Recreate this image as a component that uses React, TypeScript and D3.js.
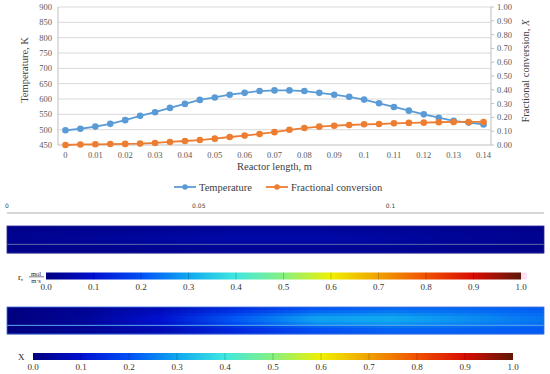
import { useEffect, useRef } from "react";
import * as d3 from "d3";

// reactor length stations (m)
const lengths = [
  0, 0.005, 0.01, 0.015, 0.02, 0.025, 0.03, 0.035, 0.04, 0.045, 0.05, 0.055,
  0.06, 0.065, 0.07, 0.075, 0.08, 0.085, 0.09, 0.095, 0.1, 0.105, 0.11, 0.115,
  0.12, 0.125, 0.13, 0.135, 0.14,
];
const temperature = [
  498, 503, 510, 519, 531, 545, 557, 571, 584, 597, 605, 614, 620, 626, 628,
  628, 626, 620, 614, 607, 598, 586, 574, 562, 550, 539, 529, 523, 517,
];
const conversion = [
  0.0, 0.004, 0.005, 0.007, 0.008, 0.01, 0.015, 0.022, 0.029, 0.036, 0.046,
  0.058, 0.068, 0.08, 0.093, 0.11, 0.123, 0.133, 0.14, 0.145, 0.15, 0.152,
  0.157, 0.16, 0.162, 0.165, 0.167, 0.167, 0.167,
];
const xTickLabels = [
  "0", "0.01", "0.02", "0.03", "0.04", "0.05", "0.06", "0.07", "0.08", "0.09",
  "0.1", "0.11", "0.12", "0.13", "0.14",
];
const tempTicks = [450, 500, 550, 600, 650, 700, 750, 800, 850, 900];
const convTicks = [0, 0.1, 0.2, 0.3, 0.4, 0.5, 0.6, 0.7, 0.8, 0.9, 1.0];

// 2D tube profiles (surface plots)
const tubeStations = [0, 0.02, 0.04, 0.06, 0.08, 0.1, 0.12, 0.14];
const rateWall = [0.01, 0.01, 0.015, 0.02, 0.02, 0.02, 0.015, 0.01];
const rateCentre = [0.02, 0.03, 0.04, 0.05, 0.05, 0.04, 0.03, 0.02];
const xWall = [0.0, 0.02, 0.05, 0.11, 0.16, 0.19, 0.2, 0.2];
const xCentre = [0.0, 0.03, 0.1, 0.21, 0.29, 0.3, 0.27, 0.24];
const radialMix = [0.35, 0.5, 0.75, 1, 1, 0.85, 0.45, 0.3, 0.25];
const rulerTicks = [0, 0.05, 0.1];

// colour map
const cmapStops = [0, 0.1, 0.2, 0.3, 0.4, 0.5, 0.6, 0.7, 0.8, 0.9, 1.0];
const cmapColors = [
  "#00007f", "#0010d0", "#0050f5", "#10a8f0", "#40e8e0", "#88f080",
  "#f0f000", "#f0a000", "#f05000", "#d80c00", "#5e1808",
];
const cbTicks = [0, 0.1, 0.2, 0.3, 0.4, 0.5, 0.6, 0.7, 0.8, 0.9, 1.0];

const SERIF = "Liberation Serif, Times New Roman, serif";
const BLUE = "#5b9bd5";
const ORANGE = "#ed7d31";

export default function App() {
  const ref = useRef<SVGSVGElement>(null);

  useEffect(() => {
    if (!ref.current) return;
    const svg = d3.select(ref.current);
    svg.selectAll("*").remove();
    const defs = svg.append("defs");

    const cmap = d3
      .scaleLinear<string>()
      .domain(cmapStops)
      .range(cmapColors)
      .interpolate(d3.interpolateRgb)
      .clamp(true);

    // ---------- top line chart ----------
    const left = 58, right = 491, top = 7, bottom = 145;
    const x = d3
      .scalePoint<number>()
      .domain(lengths)
      .range([left, right])
      .padding(0.5);
    const yT = d3.scaleLinear().domain([450, 900]).range([bottom, top]);
    const yX = d3.scaleLinear().domain([0, 1]).range([bottom, top]);

    const g = svg.append("g").attr("font-family", SERIF);
    g.selectAll("line.grid")
      .data(tempTicks.slice(1))
      .enter()
      .append("line")
      .attr("x1", left)
      .attr("x2", right)
      .attr("y1", (d) => yT(d))
      .attr("y2", (d) => yT(d))
      .attr("stroke", "#d9d9d9")
      .attr("stroke-width", 1);

    // axes lines
    g.append("line").attr("x1", left).attr("x2", left).attr("y1", top).attr("y2", bottom)
      .attr("stroke", "#bfbfbf");
    g.append("line").attr("x1", right).attr("x2", right).attr("y1", top).attr("y2", bottom)
      .attr("stroke", "#bfbfbf");
    g.append("line").attr("x1", left).attr("x2", right).attr("y1", bottom).attr("y2", bottom)
      .attr("stroke", "#bfbfbf");
    g.selectAll("line.rt")
      .data(convTicks)
      .enter()
      .append("line")
      .attr("x1", right)
      .attr("x2", right + 3)
      .attr("y1", (d) => yX(d))
      .attr("y2", (d) => yX(d))
      .attr("stroke", "#bfbfbf");

    // tick labels
    g.selectAll("text.yl")
      .data(tempTicks)
      .enter()
      .append("text")
      .attr("x", left - 6)
      .attr("y", (d) => yT(d) + 3)
      .attr("text-anchor", "end")
      .attr("font-size", 8.5)
      .attr("fill", "#595959")
      .text((d) => d);
    g.selectAll("text.yr")
      .data(convTicks)
      .enter()
      .append("text")
      .attr("x", right + 6)
      .attr("y", (d) => yX(d) + 3)
      .attr("text-anchor", "start")
      .attr("font-size", 8.5)
      .attr("fill", "#595959")
      .text((d) => d.toFixed(2));
    g.selectAll("text.xl")
      .data(xTickLabels)
      .enter()
      .append("text")
      .attr("x", (d) => x(+d) as number)
      .attr("y", bottom + 13)
      .attr("text-anchor", "middle")
      .attr("font-size", 8.5)
      .attr("fill", "#595959")
      .text((d) => d);

    // axis titles
    g.append("text")
      .attr("transform", `translate(28,70) rotate(-90)`)
      .attr("text-anchor", "middle")
      .attr("font-size", 10.5)
      .attr("fill", "#404040")
      .text("Temperature, K");
    const rt = g.append("text")
      .attr("transform", `translate(529,71) rotate(-90)`)
      .attr("text-anchor", "middle")
      .attr("font-size", 10.5)
      .attr("fill", "#404040");
    rt.append("tspan").text("Fractional conversion, ");
    rt.append("tspan").attr("font-style", "italic").text("X");
    g.append("text")
      .attr("x", (left + right) / 2)
      .attr("y", 170)
      .attr("text-anchor", "middle")
      .attr("font-size", 10.5)
      .attr("fill", "#404040")
      .text("Reactor length, m");

    // series
    const series = [
      { name: "Temperature", values: temperature, y: yT, color: BLUE },
      { name: "Fractional conversion", values: conversion, y: yX, color: ORANGE },
    ];
    series.forEach((s) => {
      const line = d3
        .line<number>()
        .x((_d, i) => x(lengths[i]) as number)
        .y((d) => s.y(d));
      g.append("path")
        .attr("d", line(s.values))
        .attr("fill", "none")
        .attr("stroke", s.color)
        .attr("stroke-width", 1.8);
      g.selectAll(null)
        .data(s.values)
        .enter()
        .append("circle")
        .attr("cx", (_d, i) => x(lengths[i]) as number)
        .attr("cy", (d) => s.y(d))
        .attr("r", 3.3)
        .attr("fill", s.color);
    });

    // legend
    const legendX = [174, 266];
    series.forEach((s, i) => {
      const lg = g.append("g").attr("transform", `translate(${legendX[i]},187)`);
      lg.append("line").attr("x1", 0).attr("x2", 22).attr("stroke", s.color).attr("stroke-width", 1.8);
      lg.append("circle").attr("cx", 11).attr("r", 2.8).attr("fill", s.color);
      lg.append("text")
        .attr("x", 25)
        .attr("y", 3.5)
        .attr("font-size", 10.5)
        .attr("fill", "#404040")
        .text(s.name);
    });

    // ---------- surface plots ----------
    const xt = d3.scaleLinear().domain([0, 0.14]).range([7, 544]);

    svg.selectAll("text.ruler")
      .data(rulerTicks)
      .enter()
      .append("text")
      .attr("x", (d) => xt(d))
      .attr("y", 208)
      .attr("text-anchor", "middle")
      .attr("font-family", "DejaVu Sans, sans-serif")
      .attr("font-size", 6)
      .attr("fill", "#444")
      .text((d) => String(d));
    svg.append("line")
      .attr("x1", xt(0)).attr("x2", xt(0.14))
      .attr("y1", 213).attr("y2", 213)
      .attr("stroke", "#9a9a9a").attr("stroke-width", 0.8);

    const drawTube = (
      id: string,
      y0: number,
      y1: number,
      wall: number[],
      centre: number[],
      lineColor: string,
      edgeColor: string
    ) => {
      const band = d3
        .scaleBand<number>()
        .domain(radialMix.map((_d, i) => i))
        .range([y0, y1]);
      radialMix.forEach((m, i) => {
        const grad = defs.append("linearGradient")
          .attr("id", `${id}-${i}`)
          .attr("gradientUnits", "userSpaceOnUse")
          .attr("x1", xt(0)).attr("x2", xt(0.14)).attr("y1", 0).attr("y2", 0);
        tubeStations.forEach((st, k) => {
          grad.append("stop")
            .attr("offset", st / 0.14)
            .attr("stop-color", cmap(wall[k] + (centre[k] - wall[k]) * m));
        });
        svg.append("rect")
          .attr("x", xt(0))
          .attr("width", xt(0.14) - xt(0))
          .attr("y", band(i) as number)
          .attr("height", band.bandwidth() + 0.3)
          .attr("fill", `url(#${id}-${i})`);
      });
      svg.append("line")
        .attr("x1", xt(0)).attr("x2", xt(0.14))
        .attr("y1", y0 + (y1 - y0) * 0.68).attr("y2", y0 + (y1 - y0) * 0.68)
        .attr("stroke", lineColor).attr("stroke-width", 1);
      svg.append("rect")
        .attr("x", xt(0)).attr("y", y0)
        .attr("width", xt(0.14) - xt(0)).attr("height", y1 - y0)
        .attr("fill", "none").attr("stroke", edgeColor).attr("stroke-width", 0.8);
    };

    drawTube("rate", 226, 253, rateWall, rateCentre, "#5c6aa8", "#2a2a96");
    drawTube("conv", 307, 334, xWall, xCentre, "#5aa8ee", "#3a70d8");

    const drawColorbar = (
      id: string,
      x0: number,
      x1: number,
      y0: number,
      h: number
    ) => {
      const s = d3.scaleLinear().domain([0, 1]).range([x0, x1]);
      const grad = defs.append("linearGradient").attr("id", id);
      cmapStops.forEach((st, i) => {
        grad.append("stop").attr("offset", st).attr("stop-color", cmapColors[i]);
      });
      svg.append("rect")
        .attr("x", x0).attr("y", y0).attr("width", x1 - x0).attr("height", h)
        .attr("fill", `url(#${id})`);
      svg.selectAll(null)
        .data(cbTicks.slice(1, -1))
        .enter()
        .append("line")
        .attr("x1", (d) => s(d)).attr("x2", (d) => s(d))
        .attr("y1", y0).attr("y2", y0 + h)
        .attr("stroke", "#000").attr("stroke-opacity", 0.25).attr("stroke-width", 0.8);
      svg.selectAll(null)
        .data(cbTicks)
        .enter()
        .append("text")
        .attr("x", (d) => s(d))
        .attr("y", y0 + h + 10)
        .attr("text-anchor", "middle")
        .attr("font-family", SERIF)
        .attr("font-size", 9)
        .attr("fill", "#333")
        .text((d) => d.toFixed(1));
    };

    drawColorbar("cb-rate", 46, 521, 272.5, 7);
    svg.append("rect").attr("x", 521).attr("y", 272.5).attr("width", 6).attr("height", 7)
      .attr("fill", "#fbe2f2");
    drawColorbar("cb-conv", 33, 513, 353, 7);

    // colour bar labels
    const lab = svg.append("g").attr("font-family", SERIF).attr("fill", "#222");
    lab.append("text").attr("x", 18).attr("y", 280).attr("font-size", 9).text("r,");
    lab.append("text").attr("x", 36).attr("y", 275.5).attr("text-anchor", "middle")
      .attr("font-size", 6.5).text("mol");
    lab.append("line").attr("x1", 29).attr("x2", 44).attr("y1", 276.8).attr("y2", 276.8)
      .attr("stroke", "#222").attr("stroke-width", 0.6);
    lab.append("text").attr("x", 36).attr("y", 282.5).attr("text-anchor", "middle")
      .attr("font-size", 6.5).text("m·s");
    lab.append("text").attr("x", 18).attr("y", 360).attr("font-size", 9).text("X");
  }, []);

  return (
    <div style={{ position: "absolute", left: 0, top: 0 }}>
      <svg ref={ref} width={550} height={374} style={{ display: "block", background: "#fff" }} />
    </div>
  );
}
